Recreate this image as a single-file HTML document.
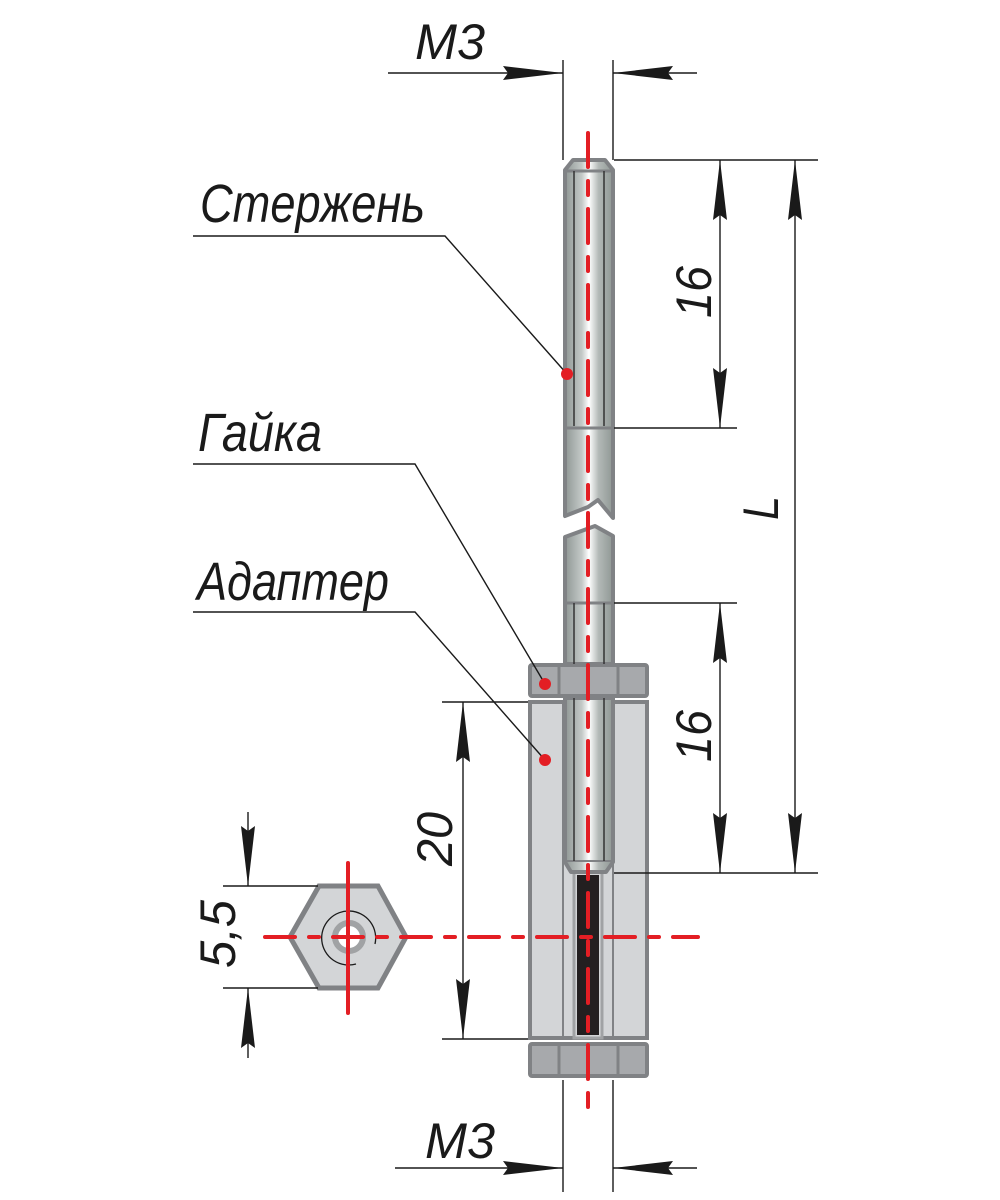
<!DOCTYPE html>
<html><head><meta charset="utf-8"><style>
html,body{margin:0;padding:0;background:#fff;}
svg{display:block;}
text{font-family:"Liberation Sans","DejaVu Sans",sans-serif;font-style:italic;fill:#1a1a1a;}
</style></head><body>
<svg width="1000" height="1200" viewBox="0 0 1000 1200" xmlns="http://www.w3.org/2000/svg">
<defs>
<linearGradient id="rod" x1="0" x2="1" y1="0" y2="0">
<stop offset="0" stop-color="#8f9794"/>
<stop offset="0.35" stop-color="#c3c9c7"/>
<stop offset="0.5" stop-color="#ffffff"/>
<stop offset="0.7" stop-color="#b3b9b7"/>
<stop offset="1" stop-color="#8f9794"/>
</linearGradient>
<marker id="ah" viewBox="0 0 60 14" refX="60" refY="7" markerWidth="60" markerHeight="14" markerUnits="userSpaceOnUse" orient="auto-start-reverse">
<path d="M0,0 L60,7 L0,14 L5,7 Z" fill="#1a1a1a"/>
</marker>
</defs>

<!-- Adapter body -->
<rect x="530" y="702" width="117" height="336" fill="#d3d5d7" stroke="#808285" stroke-width="4"/>
<line x1="563" y1="702" x2="563" y2="1038" stroke="#808285" stroke-width="2"/>
<line x1="613" y1="702" x2="613" y2="1038" stroke="#808285" stroke-width="2"/>
<rect x="574" y="872" width="28" height="166" fill="#d3d5d7" stroke="#a0a2a4" stroke-width="3"/>
<rect x="577" y="875" width="22" height="160" fill="#231f20"/>

<!-- Nuts -->
<g fill="#a7a9ac" stroke="#808285" stroke-width="4">
<rect x="530" y="665" width="117" height="31" rx="2"/>
<rect x="530" y="1044" width="117" height="32" rx="2"/>
</g>
<g stroke="#808285" stroke-width="3">
<line x1="559" y1="665" x2="559" y2="696"/><line x1="618" y1="665" x2="618" y2="696"/>
<line x1="559" y1="1044" x2="559" y2="1076"/><line x1="618" y1="1044" x2="618" y2="1076"/>
</g>

<!-- Rod upper -->
<path d="M565,170 L573,160 L605,160 L613,170 L613,518 L598,500 L588,507 L565,516 Z" fill="url(#rod)" stroke="#808285" stroke-width="4" stroke-linejoin="round"/>
<line x1="565" y1="171" x2="613" y2="171" stroke="#808285" stroke-width="3"/>
<line x1="574" y1="171" x2="574" y2="426" stroke="#333" stroke-width="1.5"/>
<line x1="604" y1="171" x2="604" y2="426" stroke="#333" stroke-width="1.5"/>
<line x1="565" y1="428" x2="613" y2="428" stroke="#808285" stroke-width="3"/>

<!-- Rod lower -->
<path d="M565,537 L595,526 L613,536 L613,664 L565,664 Z" fill="url(#rod)" stroke="#808285" stroke-width="4" stroke-linejoin="round"/>
<line x1="565" y1="603" x2="613" y2="603" stroke="#808285" stroke-width="3"/>
<line x1="574" y1="603" x2="574" y2="664" stroke="#333" stroke-width="1.5"/>
<line x1="604" y1="603" x2="604" y2="664" stroke="#333" stroke-width="1.5"/>
<path d="M565,698 L613,698 L613,862 L606,872 L571,872 L565,862 Z" fill="url(#rod)" stroke="#808285" stroke-width="4" stroke-linejoin="round"/>
<line x1="565" y1="861" x2="613" y2="861" stroke="#808285" stroke-width="2"/>
<line x1="574" y1="698" x2="574" y2="861" stroke="#333" stroke-width="1.5"/>
<line x1="604" y1="698" x2="604" y2="861" stroke="#333" stroke-width="1.5"/>

<!-- Hex nut -->
<polygon points="290,937 319,886 378,886 406,937 378,988 319,988" fill="#d3d5d7" stroke="#808285" stroke-width="5"/>
<circle cx="349" cy="937" r="14" fill="#fff" stroke="#a0a2a4" stroke-width="6"/>
<path d="M356,964 A27,27 0 1 1 375,944" fill="none" stroke="#1a1a1a" stroke-width="1.3"/>

<!-- Red center lines -->
<g stroke="#e31e24" stroke-width="4" stroke-linecap="round" fill="none">
<line x1="588" y1="133" x2="588" y2="1108" stroke-dasharray="34,14,14,14"/>
<line x1="265" y1="937" x2="698" y2="937" stroke-dasharray="30,14,10,14"/>
<line x1="348" y1="863" x2="348" y2="1013"/>
</g>

<!-- Extension / dimension lines -->
<g stroke="#1a1a1a" stroke-width="1.4" fill="none">
<line x1="563" y1="60" x2="563" y2="160"/>
<line x1="613" y1="60" x2="613" y2="160"/>
<line x1="563" y1="1080" x2="563" y2="1192"/>
<line x1="613" y1="1080" x2="613" y2="1192"/>
<line x1="614" y1="160" x2="818" y2="160"/>
<line x1="614" y1="428" x2="737" y2="428"/>
<line x1="614" y1="603" x2="737" y2="603"/>
<line x1="614" y1="873" x2="818" y2="873"/>
<line x1="442" y1="702" x2="528" y2="702"/>
<line x1="442" y1="1039" x2="528" y2="1039"/>
<line x1="223" y1="886" x2="318" y2="886"/>
<line x1="223" y1="988" x2="318" y2="988"/>
<polyline points="193,236 445,236 567,374"/>
<polyline points="193,464 415,464 545,684"/>
<polyline points="193,612 415,612 545,760"/>
</g>
<g stroke="#1a1a1a" stroke-width="1.4" fill="none">
<line x1="388" y1="73" x2="563" y2="73" marker-end="url(#ah)"/>
<line x1="697" y1="73" x2="613" y2="73" marker-end="url(#ah)"/>
<line x1="395" y1="1168" x2="563" y2="1168" marker-end="url(#ah)"/>
<line x1="697" y1="1168" x2="613" y2="1168" marker-end="url(#ah)"/>
<line x1="720" y1="160" x2="720" y2="428" marker-start="url(#ah)" marker-end="url(#ah)"/>
<line x1="720" y1="603" x2="720" y2="873" marker-start="url(#ah)" marker-end="url(#ah)"/>
<line x1="795" y1="160" x2="795" y2="873" marker-start="url(#ah)" marker-end="url(#ah)"/>
<line x1="463" y1="702" x2="463" y2="1039" marker-start="url(#ah)" marker-end="url(#ah)"/>
<line x1="248" y1="812" x2="248" y2="886" marker-end="url(#ah)"/>
<line x1="248" y1="1058" x2="248" y2="988" marker-end="url(#ah)"/>
</g>

<!-- Red dots -->
<g fill="#e31e24">
<circle cx="567" cy="374" r="6"/>
<circle cx="545" cy="684" r="6"/>
<circle cx="545" cy="760" r="6"/>
</g>

<!-- Labels -->
<text x="200" y="222" font-size="54" textLength="225" lengthAdjust="spacingAndGlyphs">Стержень</text>
<text x="198" y="451" font-size="54" textLength="124" lengthAdjust="spacingAndGlyphs">Гайка</text>
<text x="197" y="600" font-size="54" textLength="192" lengthAdjust="spacingAndGlyphs">Адаптер</text>
<text x="415" y="59" font-size="50" textLength="70" lengthAdjust="spacingAndGlyphs">M3</text>
<text x="425" y="1158" font-size="50" textLength="70" lengthAdjust="spacingAndGlyphs">M3</text>
<text transform="translate(711,318) rotate(-90)" font-size="50" textLength="52" lengthAdjust="spacingAndGlyphs">16</text>
<text transform="translate(711,762) rotate(-90)" font-size="50" textLength="52" lengthAdjust="spacingAndGlyphs">16</text>
<text transform="translate(778,520) rotate(-90)" font-size="50" textLength="24" lengthAdjust="spacingAndGlyphs">L</text>
<text transform="translate(452,866) rotate(-90)" font-size="50" textLength="54" lengthAdjust="spacingAndGlyphs">20</text>
<text transform="translate(235,968) rotate(-90)" font-size="50" textLength="68" lengthAdjust="spacingAndGlyphs">5,5</text>
</svg>
</body></html>
